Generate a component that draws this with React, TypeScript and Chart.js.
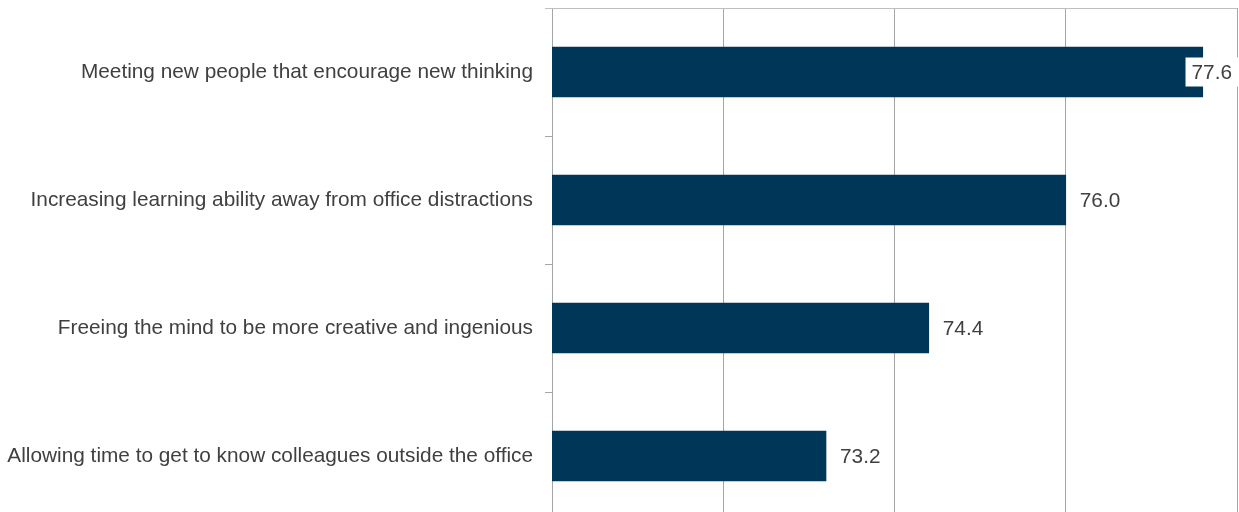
import React, { useEffect, useRef } from "react";
import { Chart, registerables } from "chart.js";

Chart.register(...registerables);

const categories = [
  "Meeting new people that encourage new thinking",
  "Increasing learning ability away from office distractions",
  "Freeing the mind to be more creative and ingenious",
  "Allowing time to get to know colleagues outside the office",
];
const values = [77.6, 76.0, 74.4, 73.2];
const axisMin = 70;
const axisMax = 78;
const axisStep = 2;

const FONT = "'Liberation Sans', Arial, sans-serif";
const FONT_SIZE = 20.8;

const labelPlugin = {
  id: "valueLabels",
  afterDatasetsDraw(chart: any) {
    const ctx = chart.ctx;
    const meta = chart.getDatasetMeta(0);
    const area = chart.chartArea;
    ctx.save();
    ctx.font = `${FONT_SIZE}px ${FONT}`;
    ctx.textBaseline = "middle";
    ctx.textAlign = "left";
    meta.data.forEach((bar: any, i: number) => {
      const text = values[i].toFixed(1);
      const w = ctx.measureText(text).width;
      let x = bar.x + 14;
      const maxX = area.right - 5 - w;
      if (x > maxX) x = maxX;
      ctx.fillStyle = "#ffffff";
      ctx.fillRect(x - 6, bar.y - 14.5, w + 12, 29);
      ctx.fillStyle = "#404040";
      ctx.fillText(text, x, bar.y + 1);
    });
    // top border line
    ctx.strokeStyle = "#bfbfbf";
    ctx.lineWidth = 1;
    ctx.beginPath();
    ctx.moveTo(area.left - 7, area.top + 0.5);
    ctx.lineTo(area.right, area.top + 0.5);
    ctx.stroke();
    ctx.restore();
  },
};

export default function App() {
  const ref = useRef<HTMLCanvasElement>(null);
  useEffect(() => {
    document.body.style.margin = "0";
    const chart = new Chart(ref.current!, {
      type: "bar",
      data: {
        labels: categories,
        datasets: [
          {
            data: values,
            backgroundColor: "#003658",
            barThickness: 50,
          },
        ],
      },
      options: {
        indexAxis: "y",
        animation: false,
        responsive: false,
        maintainAspectRatio: false,
        layout: { padding: { top: 8, right: 2, left: 0, bottom: 0 } },
        plugins: {
          legend: { display: false },
          tooltip: { enabled: false },
        },
        scales: {
          x: {
            position: "bottom",
            min: axisMin,
            max: axisMax,
            ticks: { stepSize: axisStep, display: false },
            grid: { color: "#a6a6a6", lineWidth: 1, drawTicks: false },
            border: { display: false },
            afterFit: (s: any) => {
              s.height = 0;
              s.paddingLeft = 0;
              s.paddingRight = 0;
            },
          },
          y: {
            grid: {
              display: true,
              drawOnChartArea: false,
              drawTicks: true,
              tickLength: 7,
              color: "#a6a6a6",
              offset: true,
            },
            border: { display: true, color: "#a6a6a6" },
            ticks: {
              color: "#404040",
              padding: 12,
              font: { family: FONT, size: FONT_SIZE },
            },
            afterFit: (s: any) => {
              s.width = 552;
              s.paddingTop = 0;
              s.paddingBottom = 0;
            },
          },
        },
      },
      plugins: [labelPlugin],
    });
    return () => chart.destroy();
  }, []);
  return (
    <div style={{ width: 1239, height: 512, overflow: "hidden" }}>
      <canvas ref={ref} width={1239} height={520} style={{ display: "block" }} />
    </div>
  );
}
